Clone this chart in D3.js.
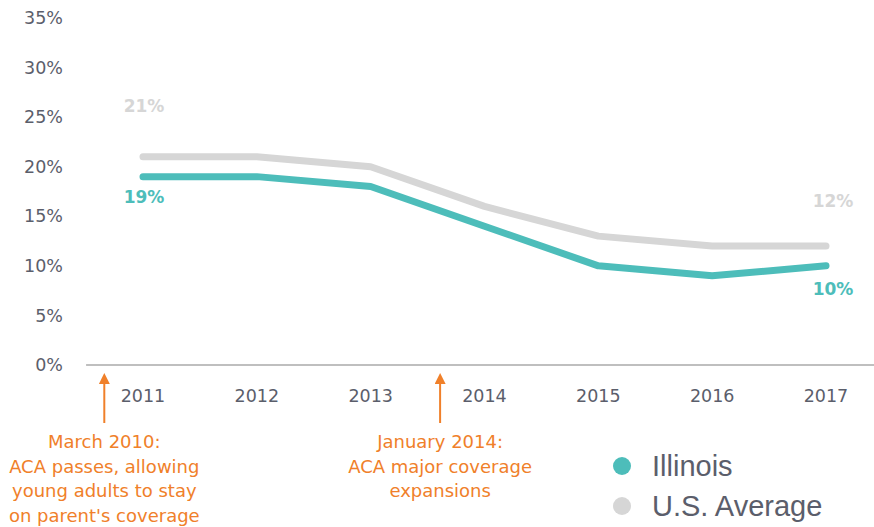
<!DOCTYPE html>
<html><head><meta charset="utf-8">
<script src="https://cdn.jsdelivr.net/npm/d3@7"></script>
<style>body{margin:0;background:#fff}svg{display:block}</style>
</head><body>
<svg id="c" width="874" height="527"></svg>
<script>
const years = [2011, 2012, 2013, 2014, 2015, 2016, 2017];
const illinois = [19, 19, 18, 14, 10, 9, 10];
const usAverage = [21, 21, 20, 16, 13, 12, 12];
const yTicks = [0, 5, 10, 15, 20, 25, 30, 35];
const seriesNames = ["Illinois", "U.S. Average"];
const seriesColors = ["#4dbdba", "#d6d6d6"];
const annotations = [
  {year: 2010.66, lines: ["March 2010:", "ACA passes, allowing", "young adults to stay", "on parent's coverage"]},
  {year: 2013.61, lines: ["January 2014:", "ACA major coverage", "expansions"]}
];

const svg = d3.select("#c");
const axisFont = "'DejaVu Sans', Verdana, sans-serif";
const textColor = "#5b5e6b";
const orange = "#f0802a";

const x = d3.scaleLinear().domain([2011, 2017]).range([143, 826]);
const step = x(2012) - x(2011);
const y = d3.scaleLinear().domain([0, 35]).range([365, 18]);

// y tick labels
svg.append("g").selectAll("text").data(yTicks).join("text")
  .attr("x", 63).attr("y", d => y(d)).attr("dy", "0.35em")
  .attr("text-anchor", "end").attr("font-family", axisFont).attr("font-size", 17.5)
  .attr("fill", textColor).text(d => d + "%");

// baseline
svg.append("line").attr("x1", x(2011) - step / 2).attr("x2", x(2017) + step / 2)
  .attr("y1", y(0)).attr("y2", y(0)).attr("stroke", "#bfbfbf").attr("stroke-width", 2);

// x tick labels
svg.append("g").selectAll("text").data(years).join("text")
  .attr("x", d => x(d)).attr("y", 402).attr("text-anchor", "middle")
  .attr("font-family", axisFont).attr("font-size", 17.5).attr("fill", textColor).text(d => d);

// lines
const line = d3.line().x((d, i) => x(years[i])).y(d => y(d));
[[usAverage, seriesColors[1]], [illinois, seriesColors[0]]].forEach(([vals, col]) => {
  svg.append("path").datum(vals).attr("d", line).attr("fill", "none")
    .attr("stroke", col).attr("stroke-width", 7).attr("stroke-linecap", "round").attr("stroke-linejoin", "round");
});

// value labels
const labels = [
  {yr: years[0], v: usAverage[0], col: seriesColors[1], dy: -51},
  {yr: years[0], v: illinois[0], col: seriesColors[0], dy: 20},
  {yr: years[6], v: usAverage[6], col: seriesColors[1], dy: -45},
  {yr: years[6], v: illinois[6], col: seriesColors[0], dy: 23}
];
svg.append("g").selectAll("text").data(labels).join("text")
  .attr("x", d => x(d.yr) + (d.yr === 2017 ? 7 : 1)).attr("y", d => y(d.v) + d.dy).attr("dy", "0.35em")
  .attr("text-anchor", "middle").attr("font-family", axisFont).attr("font-weight", "bold")
  .attr("font-size", 17).attr("fill", d => d.col).text(d => d.v + "%");

// annotations
svg.append("defs").append("marker").attr("id", "ah").attr("viewBox", "0 0 10 10")
  .attr("refX", 1).attr("refY", 5).attr("markerWidth", 14).attr("markerHeight", 11)
  .attr("markerUnits", "userSpaceOnUse").attr("orient", "auto")
  .append("path").attr("d", "M0,0 L10,5 L0,10 Z").attr("fill", orange);
annotations.forEach(a => {
  const ax = x(a.year);
  svg.append("line").attr("x1", ax).attr("x2", ax).attr("y1", 423).attr("y2", 383)
    .attr("stroke", orange).attr("stroke-width", 2).attr("marker-end", "url(#ah)");
  svg.append("g").selectAll("text").data(a.lines).join("text")
    .attr("x", ax).attr("y", (d, i) => 448 + i * 24.7).attr("text-anchor", "middle")
    .attr("font-family", axisFont).attr("font-size", 18).attr("fill", orange).text(d => d);
});

// legend
const lg = svg.append("g").selectAll("g").data(seriesNames).join("g")
  .attr("transform", (d, i) => `translate(622,${466 + i * 40})`);
lg.append("circle").attr("r", 9).attr("fill", (d, i) => seriesColors[i]);
lg.append("text").attr("x", 30).attr("dy", "0.35em").attr("font-family", "'Liberation Sans', Arial, sans-serif")
  .attr("font-size", 29).attr("fill", textColor).text(d => d);
</script>
</body></html>
